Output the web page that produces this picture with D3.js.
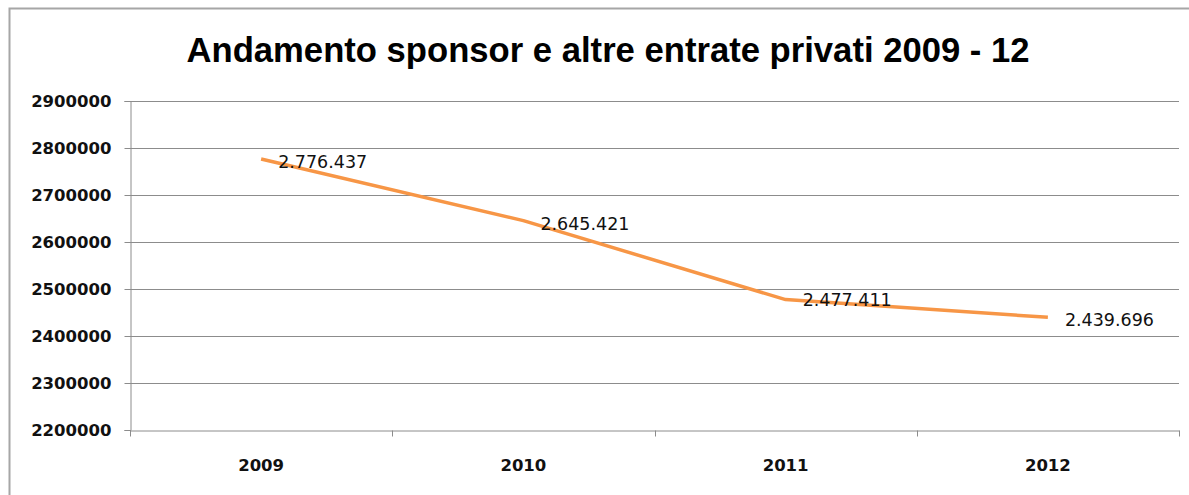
<!DOCTYPE html>
<html><head><meta charset="utf-8">
<script src="https://cdn.jsdelivr.net/npm/d3@7"></script>
<style>
html,body{margin:0;padding:0;background:#fff;}
svg{display:block;}
</style></head>
<body>
<svg id="chart" width="1189" height="495"></svg>
<script>
const title = "Andamento sponsor e altre entrate privati 2009 - 12";
const categories = ["2009", "2010", "2011", "2012"];
const values = [2776437, 2645421, 2477411, 2439696];
const yTicks = [2200000, 2300000, 2400000, 2500000, 2600000, 2700000, 2800000, 2900000];

const svg = d3.select("#chart");
const W = 1189, H = 495;
const m = {left: 130, right: 10, top: 101, bottom: 65};

svg.append("rect").attr("x", 0).attr("y", 0).attr("width", W).attr("height", H).attr("fill", "#fff");
// outer chart border
svg.append("path").attr("d", `M9.5,${H+2} L9.5,8.5 L${W+2},8.5`)
  .attr("fill", "none").attr("stroke", "#a6a6a6").attr("stroke-width", 2);

svg.append("text").attr("x", 608).attr("y", 62).attr("text-anchor", "middle")
  .attr("font-family", "Liberation Sans, Arial, sans-serif").attr("font-weight", "bold")
  .attr("font-size", 34.5).attr("fill", "#000")
  .attr("textLength", 843).attr("lengthAdjust", "spacingAndGlyphs")
  .text(title);

const x = d3.scaleBand().domain(categories).range([m.left, W - m.right]).padding(0);
const y = d3.scaleLinear().domain([2200000, 2900000]).range([H - m.bottom, m.top]);

// gridlines
svg.append("g").selectAll("line").data(yTicks.slice(1)).join("line")
  .attr("x1", m.left).attr("x2", W - m.right)
  .attr("y1", d => Math.round(y(d)) + 0.5).attr("y2", d => Math.round(y(d)) + 0.5)
  .attr("stroke", "#8c8c8c").attr("stroke-width", 1);

// y axis
const yAxis = d3.axisLeft(y).tickValues(yTicks).tickSize(6).tickPadding(13).tickFormat(d3.format("d"));
const gy = svg.append("g").attr("transform", `translate(${m.left + 0.5},0)`).call(yAxis);
gy.select(".domain").attr("stroke", "#8c8c8c");
gy.selectAll(".tick line").attr("stroke", "#8c8c8c");
gy.selectAll(".tick text").attr("font-family", "DejaVu Sans, sans-serif").attr("font-weight", "bold")
  .attr("font-size", 16.5).attr("fill", "#111");

// x axis
const gx = svg.append("g").attr("transform", `translate(0,${Math.round(y(2200000)) + 0.5})`)
  .call(d3.axisBottom(x).tickSize(0).tickPadding(29));
gx.select(".domain").attr("stroke", "#8c8c8c");
gx.selectAll(".tick text").attr("font-family", "DejaVu Sans, sans-serif").attr("font-weight", "bold")
  .attr("font-size", 16.5).attr("fill", "#111");
// category boundary ticks
const bounds = categories.map(c => x(c)).concat([x.range()[1]]);
gx.append("g").selectAll("line").data(bounds).join("line")
  .attr("x1", d => Math.round(d) + 0.5).attr("x2", d => Math.round(d) + 0.5)
  .attr("y1", 0).attr("y2", 6).attr("stroke", "#8c8c8c");

// line
const cx = c => x(c) + x.bandwidth() / 2;
const line = d3.line().x((d, i) => cx(categories[i])).y(d => y(d));
svg.append("path").datum(values).attr("d", line)
  .attr("fill", "none").attr("stroke", "#f79646").attr("stroke-width", 3.5)
  .attr("stroke-linejoin", "round");

// data labels
const loc = d3.formatLocale({decimal: ",", thousands: ".", grouping: [3], currency: ["", "€"]});
const fmt = loc.format(",d");
svg.append("g").selectAll("text").data(values).join("text")
  .attr("x", (d, i) => cx(categories[i]) + 17)
  .attr("y", (d, i) => y(d) + (i === 2 ? 6 : 9))
  .attr("font-family", "DejaVu Sans, sans-serif").attr("font-size", 17.5).attr("fill", "#111")
  .text(d => fmt(d));
</script>
</body></html>
